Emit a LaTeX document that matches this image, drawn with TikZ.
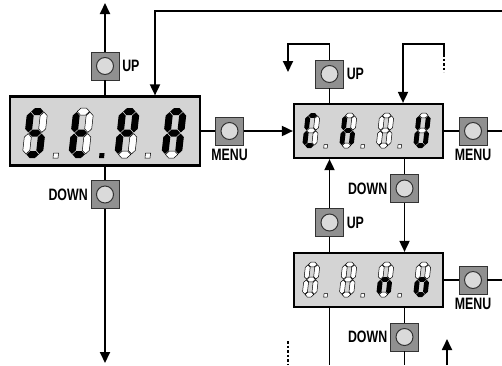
\documentclass[tikz,border=0pt]{standalone}
\usepackage{fontspec}
\newfontfamily\lblfont[FakeStretch=0.75]{Liberation Sans}
\usetikzlibrary{positioning,arrows.meta}
\definecolor{lcdgray}{HTML}{D4D4D4}
\definecolor{btngray}{HTML}{909090}
\definecolor{knobgray}{HTML}{DADADA}

\tikzset{
  son/.style={fill=black},
  sof/.style={fill=white,draw=black,line width=0.5pt},
  snone/.style={},
}

% one seven-segment digit: scope options, segments a..g, dot
\newcommand{\lcddigit}[9]{%
  \begin{scope}[#1,xslant=0.11]
    \path[#2] (4.1,-46.5) -- (7.6,-50) -- (12.9,-50) -- (16.4,-46.5) -- (12.9,-43) -- (7.6,-43) -- cycle;
    \path[#3] (17,-45.9) -- (20.5,-42.4) -- (20.5,-29.1) -- (17,-25.6) -- (13.5,-29.1) -- (13.5,-42.4) -- cycle;
    \path[#4] (17,-24.4) -- (20.5,-20.9) -- (20.5,-7.6) -- (17,-4.1) -- (13.5,-7.6) -- (13.5,-20.9) -- cycle;
    \path[#5] (4.1,-3.5) -- (7.6,-7) -- (12.9,-7) -- (16.4,-3.5) -- (12.9,0) -- (7.6,0) -- cycle;
    \path[#6] (3.5,-24.4) -- (7,-20.9) -- (7,-7.6) -- (3.5,-4.1) -- (0,-7.6) -- (0,-20.9) -- cycle;
    \path[#7] (3.5,-45.9) -- (7,-42.4) -- (7,-29.1) -- (3.5,-25.6) -- (0,-29.1) -- (0,-42.4) -- cycle;
    \path[#8] (4.1,-25) -- (7.6,-28.5) -- (12.9,-28.5) -- (16.4,-25) -- (12.9,-21.5) -- (7.6,-21.5) -- cycle;
    \path[#9] (31,-5) rectangle (36,0);
  \end{scope}}

\begin{document}
\begin{tikzpicture}[x=1pt,y=-1pt,line width=1.8pt,
  arr/.style={-{Triangle[width=10pt,length=11pt]}},
  disp/.style={draw,line width=2.2pt,fill=lcdgray,inner sep=0pt},
  btn/.style={draw=black!80,line width=0.8pt,fill=btngray,minimum size=28pt,inner sep=0pt,
    path picture={\draw[fill=knobgray,line width=1pt] (path picture bounding box.center) circle[radius=8.5pt];}},
  lbl/.style={font=\lblfont\bfseries\fontsize{16.5}{16.5}\selectfont,inner sep=0pt}]
\useasboundingbox (0,0) rectangle (502,365);

% displays
\node[disp,minimum width=190pt,minimum height=69pt] (disp1) at (105,131) {};
\node[disp,minimum width=149pt,minimum height=54pt] (disp2) at (368.5,131) {};
\node[disp,minimum width=149pt,minimum height=54pt] (disp3) at (368.5,280) {};

% St.PA
\lcddigit{shift={(22,158)}}{son}{sof}{son}{son}{sof}{son}{son}{sof}
\lcddigit{shift={(68,158)}}{sof}{sof}{sof}{son}{son}{son}{son}{son}
\lcddigit{shift={(114,158)}}{son}{son}{sof}{sof}{son}{son}{son}{sof}
\lcddigit{shift={(161,158)}}{son}{son}{son}{sof}{son}{son}{son}{snone}
% Ch.U
\lcddigit{shift={(302,148)},scale=0.7}{son}{sof}{sof}{son}{son}{son}{sof}{sof}
\lcddigit{shift={(339,148)},scale=0.7}{sof}{sof}{son}{sof}{son}{son}{son}{sof}
\lcddigit{shift={(376,148)},scale=0.7}{sof}{sof}{sof}{sof}{sof}{sof}{sof}{sof}
\lcddigit{shift={(413,148)},scale=0.7}{sof}{son}{son}{son}{son}{son}{sof}{snone}
% no
\lcddigit{shift={(302,297)},scale=0.7}{sof}{sof}{sof}{sof}{sof}{sof}{sof}{sof}
\lcddigit{shift={(339,297)},scale=0.7}{sof}{sof}{sof}{sof}{sof}{sof}{sof}{sof}
\lcddigit{shift={(376,297)},scale=0.7}{sof}{sof}{son}{sof}{son}{sof}{son}{sof}
\lcddigit{shift={(413,297)},scale=0.7}{sof}{sof}{son}{son}{son}{sof}{son}{snone}

% buttons
\node[btn] (up1) at (105,66) {};
\node[btn] (down1) at (105,194.5) {};
\node[btn] (menu1) at (229.5,131) {};
\node[btn] (up2) at (329.5,74) {};
\node[btn] (menu2) at (473,131) {};
\node[btn] (down2) at (404.5,188.5) {};
\node[btn] (up3) at (329.5,222.5) {};
\node[btn] (menu3) at (473,280) {};
\node[btn] (down3) at (404.5,337) {};

\node[lbl,right=2pt of up1] (up1l) {UP};
\node[lbl,left=2pt of down1] (down1l) {DOWN};
\node[lbl,below=3pt of menu1] (menu1l) {MENU};
\node[lbl,right=2pt of up2] (up2l) {UP};
\node[lbl,below=3pt of menu2] (menu2l) {MENU};
\node[lbl,left=2pt of down2] (down2l) {DOWN};
\node[lbl,right=2pt of up3] (up3l) {UP};
\node[lbl,below=3pt of menu3] (menu3l) {MENU};
\node[lbl,left=2pt of down3] (down3l) {DOWN};

% free ends
\coordinate (top1) at (105,3);
\coordinate (bot1) at (105,363);
\coordinate (loopR) at (502,11);
\coordinate (out2) at (502,131);
\coordinate (out3) at (502,280);
\coordinate (ret2) at (288,72);
\coordinate (cut2) at (444,54);
\coordinate (cut2b) at (444,72);
\coordinate (bot2) at (329.5,365);
\coordinate (bot3) at (404.5,365);
\coordinate (dsh3) at (288,341);
\coordinate (dsh3b) at (288,365);
\coordinate (in3) at (447,365);
\coordinate (in3t) at (447,339);

% connectors
\draw (disp1) -- (up1);
\draw[arr] (up1) -- (top1);
\draw (disp1) -- (down1);
\draw[arr] (down1) -- (bot1);
\draw[arr] (loopR) -| ([xshift=50pt]disp1.north);
\draw (disp1) -- (menu1);
\draw[arr] (menu1) -- (disp2);
\draw (disp2) -- (menu2);
\draw (menu2) -- (out2);
\draw (disp2.north -| up2) -- (up2);
\draw[arr] (up2.north) -- ++(0,-16) -| (ret2);
\draw[arr] (cut2) -- ++(0,-10) -| ([xshift=34.5pt]disp2.north);
\draw[dash pattern=on 2.5pt off 2pt] (cut2) -- (cut2b);
\draw (disp2.south -| down2) -- (down2);
\draw[arr] (down2) -- (disp3.north -| down2);
\draw (disp3.north -| up3) -- (up3);
\draw[arr] (up3) -- (disp2.south -| up3);
\draw (disp3) -- (menu3);
\draw (menu3) -- (out3);
\draw (disp3.south -| down3) -- (down3);
\draw (down3) -- (bot3);
\draw (disp3.south -| up3) -- (bot2);
\draw[dash pattern=on 2.5pt off 2pt] (dsh3) -- (dsh3b);
\draw[arr] (in3) -- (in3t);
\end{tikzpicture}
\end{document}
